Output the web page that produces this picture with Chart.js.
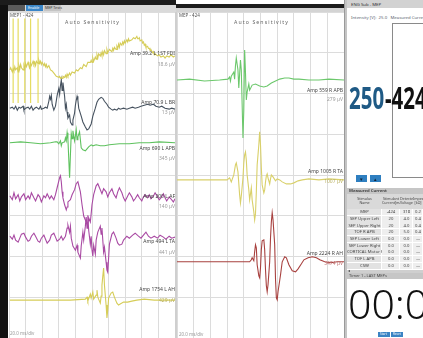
<!DOCTYPE html>
<html>
<head>
<meta charset="utf-8">
<script src="https://cdn.jsdelivr.net/npm/chart.js@4.4.1/dist/chart.umd.min.js"></script>
<style>
  html, body { margin: 0; padding: 0; width: 423px; height: 338px; overflow: hidden; background: #fff;
    font-family: "Noto Sans", "Open Sans", sans-serif; }
  .box { position: absolute; }
  .t { position: absolute; white-space: nowrap; line-height: 1; color: #444; font-size: 5px; }
  .lab { text-align: right; }
  .sub { color: #9a9a9a; }
  .cell { position: absolute; font-size: 4.2px; color: #444; text-align: center; line-height: 1.05; overflow: hidden; white-space: nowrap; }
  canvas { display: block; }
</style>
</head>
<body>

<!-- frame, tab strip and panel headers -->
<div class="box" style="left:0;top:0;width:8px;height:338px;background:#111;"></div>
<div class="box" style="left:0;top:0;width:176px;height:5px;background:#1c1c1c;"></div>
<div class="box" style="left:8px;top:5px;width:168px;height:7px;background:#dadada;"></div>
<div class="box" style="left:8px;top:5px;width:17px;height:6px;background:#5b5b5b;"></div>
<div class="box" style="left:26px;top:5px;width:17px;height:6px;background:#3a86c8;"></div>
<div class="t" style="left:28px;top:6.2px;font-size:3.6px;color:#fff;">Enable</div>
<div class="box" style="left:44px;top:5px;width:17px;height:6px;background:#c4c4c4;"></div>
<div class="t" style="left:45px;top:6.2px;font-size:3.6px;color:#333;">MEP Tests</div>
<div class="box" style="left:176px;top:4px;width:171px;height:4px;background:#1c1c1c;"></div>
<div class="box" style="left:176px;top:8px;width:171px;height:4px;background:#d4d4d4;"></div>

<!-- waveform panels -->
<div class="box" style="left:9px;top:12px;width:166px;height:326px;"><canvas id="leftPanel" width="166" height="326"></canvas></div>
<div class="box" style="left:175px;top:12px;width:2px;height:326px;background:#cfcfcf;"></div>
<div class="box" style="left:177px;top:12px;width:167px;height:326px;"><canvas id="midPanel" width="167" height="326"></canvas></div>
<div class="box" style="left:344px;top:0;width:3px;height:338px;background:#c4c4c4;border-left:1px solid #9a9a9a;box-sizing:border-box;"></div>

<div class="t" style="left:10px;top:13px;font-size:4.5px;color:#555;">MEP1 - 424</div>
<div class="t" style="left:65px;top:20px;font-size:5.2px;color:#666;letter-spacing:1.1px;">Auto Sensitivity</div>
<div class="t" style="left:179px;top:13px;font-size:4.5px;color:#555;">MEP - 424</div>
<div class="t" style="left:234px;top:20px;font-size:5.2px;color:#666;letter-spacing:1.1px;">Auto Sensitivity</div>

<div class="t lab" style="right:248px;top:50.5px;">Amp 39.2 L 1ST FDI</div>
<div class="t lab sub" style="right:248px;top:61.5px;">18.6 µV</div>
<div class="t lab" style="right:248px;top:99.5px;">Amp 70.9 L BR</div>
<div class="t lab sub" style="right:248px;top:109.5px;">13 µV</div>
<div class="t lab" style="right:248px;top:145.5px;">Amp 690 L APB</div>
<div class="t lab sub" style="right:248px;top:155.5px;">345 µV</div>
<div class="t lab" style="right:248px;top:193.5px;">Amp 200 L AF</div>
<div class="t lab sub" style="right:248px;top:203.5px;">140 µV</div>
<div class="t lab" style="right:248px;top:238.5px;">Amp 494 L TA</div>
<div class="t lab sub" style="right:248px;top:249.5px;">441 µV</div>
<div class="t lab" style="right:248px;top:286.5px;">Amp 1754 L AH</div>
<div class="t lab sub" style="right:248px;top:297.5px;color:#b8b060;">429 µV</div>
<div class="t sub" style="left:10px;top:331px;font-size:4.5px;">20.0 ms/div</div>

<div class="t lab" style="right:80px;top:87.5px;">Amp 559 R APB</div>
<div class="t lab sub" style="right:80px;top:96.5px;">279 µV</div>
<div class="t lab" style="right:80px;top:168.5px;">Amp 1005 R TA</div>
<div class="t lab sub" style="right:80px;top:178.5px;color:#b8b060;">1007 µV</div>
<div class="t lab" style="right:80px;top:250.5px;">Amp 2224 R AH</div>
<div class="t lab sub" style="right:80px;top:260.5px;color:#c07070;">3474 µV</div>
<div class="t sub" style="left:179px;top:332px;font-size:4.5px;">20.0 ms/div</div>

<!-- stimulator side panel -->
<div class="box" style="left:347px;top:0;width:76px;height:8px;background:#d2d2d2;"></div>
<div class="t" style="left:351px;top:1.8px;font-size:4.3px;color:#333;">ENG Sub - MEP</div>
<div class="t" style="left:351px;top:15px;font-size:4.3px;color:#5a6470;">Intensity [V]:&nbsp; 25.0 &nbsp; Measured Current</div>
<div class="box" style="left:392px;top:23px;width:40px;height:153px;border:1px solid #8a8a8a;"></div>
<div class="t" style="left:349px;top:82px;font-size:31px;font-weight:700;color:#1f5a85;transform:scaleX(0.66);transform-origin:0 0;">250</div>
<div class="t" style="left:385px;top:82px;font-size:31px;font-weight:700;color:#111;transform:scaleX(0.66);transform-origin:0 0;">-424</div>
<div class="box" style="left:356px;top:175px;width:11px;height:7px;background:#2f7fc0;"></div>
<div class="t" style="left:359px;top:176.5px;font-size:4.5px;color:#123;">▼</div>
<div class="box" style="left:370px;top:175px;width:11px;height:7px;background:#2f7fc0;"></div>
<div class="t" style="left:373px;top:176.5px;font-size:4.5px;color:#123;">▲</div>

<div id="table"></div>

<div class="t" style="left:348px;top:283px;font-size:41px;font-weight:300;color:#111;">00:00</div>
<div class="box" style="left:378px;top:332px;width:12px;height:5px;background:#3b84c4;"></div>
<div class="box" style="left:391px;top:332px;width:12px;height:5px;background:#3b84c4;"></div>
<div class="t" style="left:380px;top:333px;font-size:3px;color:#fff;">Start</div>
<div class="t" style="left:393px;top:333px;font-size:3px;color:#fff;">Reset</div>

<script>
// ---- waveform samples: [time ms, amplitude µV] ----
const L_FDI = [[1,0],[2,2],[4,-2],[5,1],[6,-1],[7,3],[8,0],[10,2],[11,-2],[12,4],[13,1],[14,5],[15,2],[17,0],[18,4],[19,1],[20,6],[21,3],[23,7],[24,4],[25,2],[26,6],[27,4],[29,8],[30,5],[31,7],[32,4],[33,8],[35,6],[36,9],[37,6],[38,8],[39,5],[40,7],[42,4],[43,6],[44,3],[45,5],[46,2],[48,4],[50,0],[52,-1],[55,-4],[57,-6],[60,-7],[61,-6],[62,-8],[63,-7],[64,-8],[65,-6],[67,-7],[68,-5],[69,-7],[70,-4],[71,-6],[73,-3],[74,-5],[76,-2],[79,-3],[81,0],[83,-1],[86,2],[88,1],[90,5],[93,3],[95,7],[98,7],[99,9],[100,7],[101,11],[102,8],[104,12],[105,10],[106,14],[107,11],[108,15],[110,13],[111,16],[112,13],[113,17],[114,14],[115,18],[117,15],[118,19],[119,16],[121,19],[124,17],[125,20],[126,18],[127,21],[129,19],[130,22],[131,20],[132,24],[133,21],[134,25],[136,23],[137,26],[138,24],[139,27],[140,25],[142,28],[143,26],[144,29],[145,27],[148,28],[150,30],[152,29],[154,31.2],[155,29],[156,29],[157,30],[158,27],[160,28],[161,25],[162,26],[163,23],[164,24],[165,21],[167,22],[168,20],[169,20],[170,18],[171,19],[173,16],[174,17],[175,14],[176,15],[179,13],[181,14],[183,12],[186,13],[188,11],[190,13],[193,12],[195,14],[198,12],[200,13]];
const L_FDI_ARTIFACT_MS = [5, 11, 19, 26, 35];
const L_FDI_ARTIFACT_UV = [-31, 48];

const L_BR = [[1,0],[4,1.4],[6,-1.4],[8,2.8],[10,-2.8],[12,1.4],[14,0],[17,2.8],[18,-2.8],[20,0],[23,1.4],[25,-1.4],[27,2.8],[29,-2.8],[31,0],[33,1.4],[36,-1.4],[38,2.8],[39,-1.4],[42,0],[44,1.4],[46,0],[48,9.8],[49,16.8],[50,12.6],[51,18.2],[52,5.6],[54,-2.8],[56,2.8],[58,18.2],[60,28],[61,19.6],[62,32.2],[63,40.1],[64,25.2],[65,36.4],[67,16.8],[68,0],[69,5.6],[70,-5.6],[71,-14],[73,-9.8],[74,-19.6],[76,-23.8],[77,-16.8],[79,-7],[80,4.2],[81,11.2],[82,16.8],[83,11.2],[84,0],[87,-11.2],[89,-19.6],[92,-26.6],[94,-30.8],[96,-29.4],[99,-22.4],[101,-11.2],[104,0],[106,8.4],[108,12.6],[111,15.4],[113,14],[115,9.8],[118,5.6],[120,1.4],[123,-1.4],[125,-2.8],[127,-1.4],[130,-2.8],[132,0],[134,-1.4],[138,0],[142,-1.4],[145,0],[149,1.4],[152,0],[156,1.4],[159,2.8],[163,4.2],[167,5.6],[170,4.2],[174,5.6],[177,2.8],[181,1.4],[184,2.8],[188,0],[193,-1.4],[196,0],[200,-1.4]];

const L_APB = [[1,0],[14,14],[26,0],[38,-14],[50,0],[56,14],[58,14],[60,-14],[62,29],[63,-43],[64,0],[67,14],[68,72],[69,29],[70,144],[71,43],[73,-503],[74,-173],[75,130],[76,58],[77,173],[79,29],[80,101],[81,187],[82,43],[83,86],[85,158],[86,43],[87,-72],[89,-101],[92,-115],[94,-86],[96,-58],[99,-29],[101,-43],[105,-29],[110,-43],[115,-43],[121,-29],[133,-14],[145,-14],[157,0],[169,0],[181,14],[200,0]];

const L_AF = [[1,8],[4,-8],[6,21],[8,-4],[11,13],[13,-13],[15,4],[18,17],[20,-8],[23,8],[25,-4],[27,21],[30,0],[32,-13],[35,13],[37,4],[39,-17],[42,8],[44,0],[46,17],[49,-4],[51,8],[54,-8],[56,13],[58,42],[61,84],[62,92],[63,67],[64,25],[65,0],[67,-29],[69,-50],[70,-38],[71,-17],[74,-8],[76,13],[79,34],[81,59],[83,67],[86,25],[88,-29],[90,-76],[93,-101],[95,-108],[96,-84],[98,-101],[99,-67],[100,-29],[102,13],[105,50],[107,59],[110,34],[112,17],[114,38],[117,25],[119,4],[121,21],[124,38],[126,17],[129,0],[131,25],[133,42],[136,21],[138,0],[140,-13],[143,8],[145,21],[148,4],[150,-13],[152,-4],[155,13],[157,0],[160,-13],[162,4],[164,13],[167,0],[169,13],[171,-4],[174,8],[176,21],[179,4],[181,-8],[183,0],[186,17],[188,0],[190,-13],[193,4],[195,-4],[198,-17],[200,-4]];

const L_TA = [[1,17],[4,-9],[6,26],[8,-17],[11,-35],[13,0],[15,35],[18,43],[20,9],[23,-26],[25,-17],[27,17],[30,43],[32,17],[35,-26],[37,-35],[39,0],[42,26],[44,-9],[46,-43],[49,-17],[51,26],[54,43],[56,9],[58,-26],[61,-9],[63,17],[65,-17],[68,17],[70,87],[71,113],[73,52],[74,104],[75,0],[77,-69],[80,-104],[82,-61],[83,-121],[86,-173],[87,-69],[89,52],[90,-17],[92,104],[93,182],[94,87],[95,199],[96,69],[98,-52],[99,17],[100,-104],[101,-156],[102,-61],[104,-139],[105,-17],[107,52],[110,104],[111,35],[112,87],[113,-17],[114,-121],[115,-78],[117,-208],[118,-277],[119,-295],[120,-173],[121,-52],[124,35],[126,52],[129,0],[131,-43],[133,-61],[136,-52],[138,-17],[142,17],[145,0],[149,26],[152,43],[156,17],[159,0],[163,35],[165,52],[168,17],[171,0],[175,17],[179,0],[182,26],[186,9],[189,-9],[193,17],[196,0],[200,9]];

const L_AH = [[1,0],[38,0],[74,0],[92,35],[94,105],[95,-35],[98,210],[99,70],[101,280],[102,35],[105,175],[106,350],[107,105],[110,-105],[111,140],[112,525],[113,840],[114,1124],[115,525],[117,-175],[118,-630],[119,-350],[120,70],[123,245],[125,280],[127,105],[130,-105],[132,-175],[134,-140],[138,-70],[143,-70],[148,-35],[154,0],[163,35],[175,0],[187,0],[200,0]];

const R_APB = [[0,0],[15,6],[33,-6],[51,0],[61,6],[63,19],[64,-6],[65,25],[68,51],[69,6],[70,89],[71,140],[73,64],[74,-51],[75,38],[76,127],[77,64],[79,-368],[80,-191],[81,191],[82,51],[83,-127],[84,-76],[86,-25],[87,-64],[90,-32],[94,-25],[99,-38],[104,-44],[108,-38],[113,-19],[118,-6],[123,6],[129,13],[134,13],[140,6],[146,6],[158,0],[170,0],[182,6],[200,0]];

const R_TA = [[0,0],[27,0],[60,0],[61,0],[63,23],[65,-23],[68,57],[70,171],[71,194],[73,91],[75,-171],[76,-263],[77,-183],[79,23],[80,194],[81,286],[82,320],[83,228],[84,57],[86,-114],[87,-228],[88,-160],[89,-91],[90,-228],[92,-365],[93,-457],[94,-388],[95,-137],[96,171],[98,400],[99,548],[100,400],[101,137],[102,-57],[104,-148],[105,-114],[106,-23],[107,46],[108,69],[109,23],[111,-46],[112,11],[113,57],[115,34],[118,-11],[120,11],[123,0],[126,-23],[131,-46],[136,-46],[140,-34],[145,-11],[150,0],[158,11],[170,0],[182,11],[200,0]];

const R_AH = [[0,0],[60,0],[87,0],[89,51],[90,102],[92,26],[93,256],[94,435],[95,358],[96,-77],[98,-358],[99,-409],[100,-153],[101,307],[102,537],[104,562],[105,307],[106,-204],[107,-613],[108,-767],[109,-588],[111,0],[112,613],[113,1022],[114,1253],[115,1074],[117,435],[118,-460],[119,-920],[120,-971],[121,-767],[124,-332],[126,0],[129,128],[131,102],[134,-77],[138,-230],[142,-256],[145,-179],[149,-51],[152,51],[157,102],[162,128],[167,102],[171,51],[177,0],[184,-26],[192,0],[200,0]];

// ---- stimulation table ----
const stimNames = ["MEP", "SEP Upper Left", "SEP Upper Right", "TOF R APB", "SEP Lower Left", "SEP Lower Right", "CORTICAL Motor F", "TOF L APB", "CSW"];
const stimCurrent = ["-424", "20", "20", "20", "0.0", "0.0", "0.0", "0.0", "0.0"];
const stimVoltage = ["318", "4.0", "4.0", "5.0", "0.0", "0.0", "0.0", "0.0", "0.0"];
const stimImped = ["0.2", "0.4", "0.4", "0.4", "—", "—", "—", "—", "—"];

// display layout per channel: baseline (divisions from bottom), sensitivity (µV per division)
const leftChannels = [
  { data: L_FDI, base: 6.58, sens: 38.0,  color: "#d6cd58" },
  { data: L_BR,  base: 5.64, sens: 57.8,  color: "#46525f" },
  { data: L_APB, base: 4.79, sens: 586,   color: "#5fc25f" },
  { data: L_AF,  base: 3.44, sens: 170,   color: "#a94aa3" },
  { data: L_TA,  base: 2.45, sens: 353,   color: "#a94aa3" },
  { data: L_AH,  base: 0.93, sens: 1430,  color: "#d6cd58" }
];
const midChannels = [
  { data: R_APB, base: 6.33, sens: 259,  color: "#6cc86c" },
  { data: R_TA,  base: 3.88, sens: 465,  color: "#d9d06a" },
  { data: R_AH,  base: 1.87, sens: 1042, color: "#a8413f" }
];

function channelDataset(ch) {
  return {
    data: ch.data.map(([t, v]) => ({ x: t, y: ch.base + v / ch.sens })),
    borderColor: ch.color, borderWidth: 1.1, pointRadius: 0, tension: 0, fill: false
  };
}

function artifactDataset(ch, times, span, color) {
  const pts = [];
  times.forEach(t => {
    pts.push({ x: t, y: ch.base + span[0] / ch.sens });
    pts.push({ x: t, y: ch.base + span[1] / ch.sens });
    pts.push({ x: t, y: null });
  });
  return { data: pts, borderColor: color, borderWidth: 1.2, pointRadius: 0, spanGaps: false, fill: false };
}

function axis(max, step) {
  return {
    type: "linear", min: 0, max: max,
    ticks: { display: false, stepSize: step },
    grid: { color: "#dcdcdc", lineWidth: 1, drawTicks: false },
    border: { display: false }
  };
}

function panel(id, datasets) {
  return new Chart(document.getElementById(id), {
    type: "line",
    data: { datasets: datasets },
    options: {
      responsive: false, animation: false, devicePixelRatio: 1,
      layout: { padding: 0 },
      plugins: { legend: { display: false }, tooltip: { enabled: false } },
      scales: { x: axis(200, 20), y: axis(8, 1) }
    }
  });
}

const leftSets = leftChannels.map(channelDataset);
leftSets.push(artifactDataset(leftChannels[0], L_FDI_ARTIFACT_MS, L_FDI_ARTIFACT_UV, "rgba(226,216,80,0.9)"));
panel("leftPanel", leftSets);
panel("midPanel", midChannels.map(channelDataset));

// table of stimulation channels
(function buildTable() {
  const host = document.getElementById("table");
  let html = "";
  const x0 = 347, cols = [[347, 35], [382, 18], [400, 13], [413, 10]];
  html += `<div class="box" style="left:${x0}px;top:188px;width:76px;height:6px;background:#c6c6c6;"></div>`;
  html += `<div class="cell" style="left:349px;top:189px;font-weight:700;text-align:left;">Measured Current</div>`;
  html += `<div class="box" style="left:${x0}px;top:194px;width:76px;height:15px;background:#d9d9d9;"></div>`;
  const heads = ["Stimulus<br>Name", "Stimulant<br>Current[mA]", "Detected<br>Voltage[V]", "Impedance<br>[kΩ]"];
  cols.forEach((c, i) => {
    html += `<div class="cell" style="left:${c[0]}px;top:197px;width:${c[1]}px;font-size:3.6px;">${heads[i]}</div>`;
  });
  const rowH = 6.7;
  stimNames.forEach((name, r) => {
    const y = 209 + r * rowH;
    const vals = [name, stimCurrent[r], stimVoltage[r], stimImped[r]];
    cols.forEach((c, i) => {
      const bg = i === 0 ? "#e2e2e2" : "#eeeeee";
      html += `<div class="box" style="left:${c[0]}px;top:${y}px;width:${c[1] - 0.6}px;height:${rowH - 0.6}px;background:${bg};"></div>`;
      html += `<div class="cell" style="left:${c[0]}px;top:${y + 1.2}px;width:${c[1]}px;">${vals[i]}</div>`;
    });
  });
  html += `<div class="box" style="left:${x0}px;top:269.5px;width:76px;height:3.5px;background:#cfcfcf;"></div>`;
  html += `<div class="cell" style="left:348px;top:269.3px;font-size:3.6px;">◂</div>`;
  html += `<div class="box" style="left:${x0}px;top:273px;width:76px;height:6px;background:#c6c6c6;"></div>`;
  html += `<div class="cell" style="left:349px;top:274px;font-size:4px;text-align:left;">Timer 1 - LAST MEPs</div>`;
  host.innerHTML = html;
})();
</script>
</body>
</html>
